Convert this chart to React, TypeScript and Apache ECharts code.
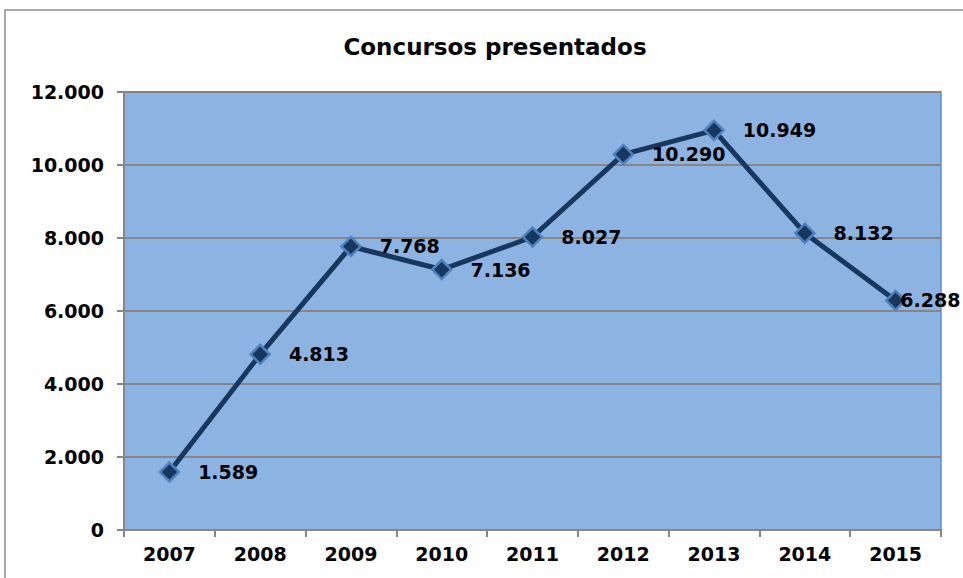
import React, { useEffect, useRef } from "react";
import * as echarts from "echarts";

const categories = ["2007", "2008", "2009", "2010", "2011", "2012", "2013", "2014", "2015"];
const values = [1589, 4813, 7768, 7136, 8027, 10290, 10949, 8132, 6288];
const titleText = "Concursos presentados";

const fmt = (v: number) => String(Math.round(v)).replace(/\B(?=(\d{3})+(?!\d))/g, ".");

export default function App() {
  const ref = useRef<HTMLDivElement>(null);
  useEffect(() => {
    document.body.style.margin = "0";
    const chart = echarts.init(ref.current!, undefined, { renderer: "svg" });
    const font = "DejaVu Sans, Verdana, sans-serif";
    chart.setOption({
      animation: false,
      backgroundColor: "#ffffff",
      title: {
        text: titleText,
        left: 490,
        textAlign: "center",
        top: 30,
        textStyle: { fontFamily: font, fontWeight: "bold", fontSize: 23, color: "#000" },
      },
      graphic: [
        {
          type: "rect",
          shape: { x: 5, y: 10, width: 1200, height: 1200 },
          style: { fill: "none", stroke: "#8c8c8c", lineWidth: 1.5 },
          silent: true,
          z: 0,
        },
      ],
      grid: {
        left: 124,
        top: 92,
        right: 22,
        bottom: 48,
        show: true,
        backgroundColor: "#8DB3E2",
        borderColor: "#5B8FD6",
        borderWidth: 1.5,
      },
      xAxis: {
        type: "category",
        data: categories,
        boundaryGap: true,
        axisLine: { show: true, lineStyle: { color: "#868686", width: 2 } },
        axisTick: { show: true, length: 7, lineStyle: { color: "#868686", width: 2 } },
        axisLabel: { margin: 14, fontFamily: font, fontWeight: "bold", fontSize: 19, color: "#000" },
        splitLine: { show: false },
      },
      yAxis: {
        type: "value",
        min: 0,
        max: 12000,
        interval: 2000,
        axisLine: { show: true, lineStyle: { color: "#868686", width: 2 } },
        axisTick: { show: true, length: 7, lineStyle: { color: "#868686", width: 2 } },
        axisLabel: {
          margin: 20,
          fontFamily: font,
          fontWeight: "bold",
          fontSize: 19,
          color: "#000",
          formatter: (v: number) => fmt(v),
        },
        splitLine: { show: true, lineStyle: { color: "#868686", width: 2 } },
      },
      series: [
        {
          type: "line",
          data: values.map((v, i) =>
            i === values.length - 1 ? { value: v, label: { distance: -6 } } : v
          ),
          symbol: "diamond",
          symbolSize: 19,
          lineStyle: { color: "#17375E", width: 5 },
          itemStyle: { color: "#17375E", borderColor: "#4F81BD", borderWidth: 2.5 },
          label: {
            show: true,
            position: "right",
            distance: 18,
            fontFamily: font,
            fontWeight: "bold",
            fontSize: 19,
            color: "#000",
            formatter: (p: any) => fmt(p.value),
          },
          z: 5,
        },
      ],
    });
    return () => chart.dispose();
  }, []);
  return <div ref={ref} style={{ width: 963, height: 578 }} />;
}
